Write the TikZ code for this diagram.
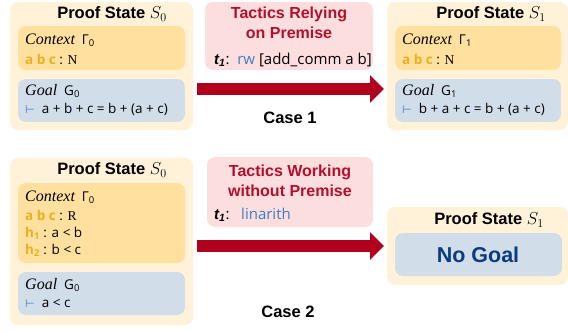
\documentclass[tikz,border=0pt]{standalone}
\usepackage[no-math]{fontspec}
\setmainfont{Open Sans}
\setsansfont{Liberation Sans}
\newfontfamily\serifit{Liberation Serif}[ItalicFont={Liberation Serif Italic}]
\newfontfamily\symfont{DejaVu Sans}
\usepackage{xcolor}
\usetikzlibrary{arrows.meta, positioning}

\definecolor{stateBg}{HTML}{FFF2D9}
\definecolor{ctxBg}{HTML}{FFE09F}
\definecolor{goalBg}{HTML}{D2DDEA}
\definecolor{tacBg}{HTML}{FDDEDF}
\definecolor{tacRed}{HTML}{B3102E}
\definecolor{arrowRed}{HTML}{B0001E}
\definecolor{varGold}{HTML}{E8B020}
\definecolor{tacBlue}{HTML}{3D7EBE}
\definecolor{noGoalBlue}{HTML}{0B3C7D}

\newcommand{\vd}{{\color{tacBlue}\symfont\fontsize{11}{12}\selectfont ⊢}}
\newcommand{\kw}[1]{{\serifit\itshape\fontsize{16}{16}\selectfont #1}}
\newcommand{\vars}[1]{{\color{varGold}\bfseries #1}}

\tikzset{
    box/.style={draw=none, rounded corners=8pt, inner sep=0pt},
    statebox/.style={box, fill=stateBg},
    ctxbox/.style={box, fill=ctxBg},
    goalbox/.style={box, fill=goalBg},
    tacbox/.style={box, fill=tacBg},
    title/.style={font=\sffamily\bfseries\fontsize{16.5}{18}\selectfont, inner sep=0pt},
    tactitle/.style={font=\sffamily\bfseries\fontsize{16}{20.5}\selectfont, text=tacRed, align=center, inner sep=0pt},
    line/.style={anchor=west, inner sep=0pt, font=\fontsize{13.5}{15}\selectfont},
    tacline/.style={anchor=west, inner sep=0pt, font=\fontsize{15}{17}\selectfont},
    bigarrow/.style={draw=arrowRed, line width=12pt, -{Triangle[length=14pt, width=27pt]}},
}

\begin{document}
\begin{tikzpicture}[x=1pt, y=-1pt]
    \useasboundingbox (0,0) rectangle (568,330);

    % Case 1
    \node[statebox, minimum width=183pt, minimum height=128pt] (sa0) at (101.5,66) {};
    \node[title] (sa0title) at (112,14) {Proof State $S_0$};
    \node[ctxbox, minimum width=167pt, minimum height=44pt] (ctxa0) at (101.5,48) {};
    \node[line] (ctxa0a) at (25,40) {\kw{Context}\ \ Γ\textsubscript{0}};
    \node[line] (ctxa0b) at (25,59) {\vars{a b c} : {\serifit N}};
    \node[goalbox, minimum width=167pt, minimum height=43pt] (goala0) at (101.5,100.5) {};
    \node[line] (goala0a) at (25,91) {\kw{Goal}\ \ G\textsubscript{0}};
    \node[line] (goala0b) at (25,109) {\vd\ \ a + b + c = b + (a + c)};

    \node[tacbox, minimum width=168pt, minimum height=68pt] (taca) at (289,36) {};
    \node[tactitle] (tacatitle) at (289,23) {Tactics Relying\\on Premise};
    \node[tacline] (tacatac) at (214,60) {{\sffamily\bfseries\itshape t\textsubscript{1}}:\ \ {\color{tacBlue}rw} [add\_comm a b]};

    \node[statebox, minimum width=181pt, minimum height=128pt] (sa1) at (477.5,66) {};
    \node[title] (sa1title) at (491,14) {Proof State $S_1$};
    \node[ctxbox, minimum width=166pt, minimum height=44pt] (ctxa1) at (478,48) {};
    \node[line] (ctxa1a) at (402,40) {\kw{Context}\ \ Γ\textsubscript{1}};
    \node[line] (ctxa1b) at (402,59) {\vars{a b c} : {\serifit N}};
    \node[goalbox, minimum width=166pt, minimum height=43pt] (goala1) at (478,100.5) {};
    \node[line] (goala1a) at (402,91) {\kw{Goal}\ \ G\textsubscript{1}};
    \node[line] (goala1b) at (402,109) {\vd\ \ b + a + c = b + (a + c)};

    \coordinate (arra0) at (197,89);
    \coordinate (arra1) at (384,89);
    \draw[bigarrow] (arra0) -- (arra1);
    \node[title] (casea) at (290,118) {Case 1};

    % Case 2
    \node[statebox, minimum width=183pt, minimum height=167pt] (sb0) at (101.5,241.5) {};
    \node[title] (sb0title) at (112,170) {Proof State $S_0$};
    \node[ctxbox, minimum width=167pt, minimum height=80pt] (ctxb0) at (101.5,223) {};
    \node[line] (ctxb0a) at (25,197) {\kw{Context}\ \ Γ\textsubscript{0}};
    \node[line] (ctxb0b) at (25,215) {\vars{a b c} : {\serifit R}};
    \node[line] (ctxb0c) at (25,233) {\vars{h\textsubscript{1}} : a < b};
    \node[line] (ctxb0d) at (25,250) {\vars{h\textsubscript{2}} : b < c};
    \node[goalbox, minimum width=167pt, minimum height=43pt] (goalb0) at (101.5,293.5) {};
    \node[line] (goalb0a) at (25,285) {\kw{Goal}\ \ G\textsubscript{0}};
    \node[line] (goalb0b) at (25,303) {\vd\ \ a < c};

    \node[tacbox, minimum width=166pt, minimum height=70pt] (tacb) at (290,192) {};
    \node[tactitle] (tacbtitle) at (290,181) {Tactics Working\\without Premise};
    \node[tacline] (tacbtac) at (214,215) {{\sffamily\bfseries\itshape t\textsubscript{1}}:\ \ \ {\color{tacBlue}linarith}};

    \node[statebox, minimum width=181pt, minimum height=78pt] (sb1) at (477.5,246) {};
    \node[title] (sb1title) at (489,220) {Proof State $S_1$};
    \node[goalbox, minimum width=167pt, minimum height=43pt] (nogoal) at (478.5,254.5) {};
    \node[font=\sffamily\bfseries\fontsize{21.5}{24}\selectfont, text=noGoalBlue] (nogoaltext) at (478,255) {No Goal};

    \coordinate (arrb0) at (197,246);
    \coordinate (arrb1) at (384,246);
    \draw[bigarrow] (arrb0) -- (arrb1);
    \node[title] (caseb) at (288,312) {Case 2};
\end{tikzpicture}
\end{document}
